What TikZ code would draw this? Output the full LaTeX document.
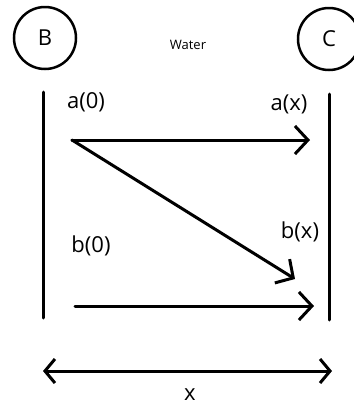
\documentclass[tikz,border=0pt]{standalone}
\usepackage{fontspec}
\setmainfont{Open Sans}
\usetikzlibrary{arrows.meta}
\begin{document}
\begin{tikzpicture}[x=1pt, y=-1pt, line width=3pt, line cap=round,
  every node/.style={font=\fontsize{22}{26}\selectfont, inner sep=0pt},
  tank/.style={draw, circle, line width=2.5pt, minimum size=62pt},
  flow/.style={-{Straight Barb[length=13pt, width=28pt]}},
  span/.style={{Straight Barb[length=10pt, width=24pt]}-{Straight Barb[length=10pt, width=24pt]}}]
  \useasboundingbox (0,0) rectangle (354,405);
  \node[tank] (B) at (45,38) {B};
  \node[tank] (C) at (329,39) {C};
  \node[font=\fontsize{13}{15}\selectfont] (water) at (188,45) {Water};
  % walls
  \coordinate (lt) at (43,92);  \coordinate (lb) at (43,318);
  \coordinate (rt) at (329,94); \coordinate (rb) at (329,320);
  \draw (lt) -- (lb);
  \draw (rt) -- (rb);
  % labels
  \node (a0) at (86,102) {a(0)};
  \node (ax) at (289,104) {a(x)};
  \node (b0) at (91,246) {b(0)};
  \node (bx) at (300,232) {b(x)};
  % arrows
  \coordinate (s1) at (72,140); \coordinate (e1) at (310,140);
  \coordinate (e3) at (295,279);
  \coordinate (s2) at (75,306); \coordinate (e2) at (314,306);
  \draw[flow] (s1) -- (e1);
  \draw[flow] (s1) -- (e3);
  \draw[flow] (s2) -- (e2);
  % length
  \coordinate (ml) at (43,371); \coordinate (mr) at (332,371);
  \draw[span] (ml) -- (mr);
  \node (len) at (190,395) {x};
\end{tikzpicture}
\end{document}
